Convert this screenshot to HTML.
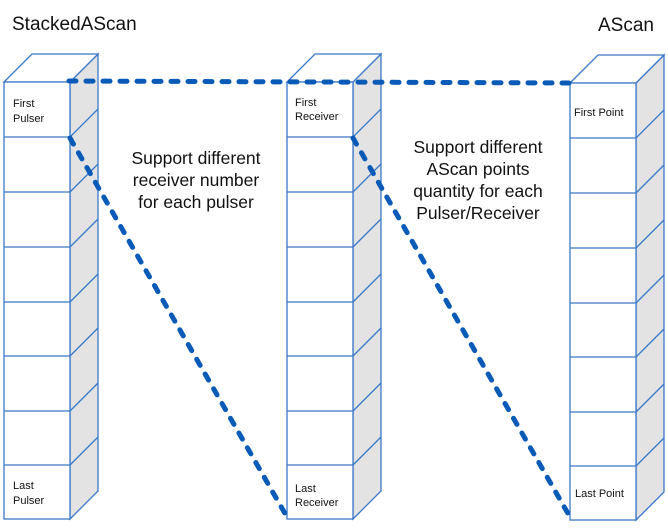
<!DOCTYPE html>
<html><head><meta charset="utf-8"><style>body{margin:0;background:#fff}svg{display:block}text{font-family:"Liberation Sans",sans-serif;fill:#111}</style></head><body>
<svg width="668" height="528" viewBox="0 0 668 528" xmlns="http://www.w3.org/2000/svg">
<defs>
<g id="col" stroke="#3b78c8" stroke-width="1.3">
<polygon points="66,0 94,-28 94,409 66,437" fill="#e3e3e3"/>
<polygon points="0,0 28,-28 94,-28 66,0" fill="#fff"/>
<rect x="0" y="0" width="66" height="437" fill="#fff"/>
<g fill="none">
<line x1="0" y1="55" x2="66" y2="55"/><line x1="66" y1="55" x2="94" y2="27"/>
<line x1="0" y1="110" x2="66" y2="110"/><line x1="66" y1="110" x2="94" y2="82"/>
<line x1="0" y1="165" x2="66" y2="165"/><line x1="66" y1="165" x2="94" y2="137"/>
<line x1="0" y1="220" x2="66" y2="220"/><line x1="66" y1="220" x2="94" y2="192"/>
<line x1="0" y1="274" x2="66" y2="274"/><line x1="66" y1="274" x2="94" y2="246"/>
<line x1="0" y1="329" x2="66" y2="329"/><line x1="66" y1="329" x2="94" y2="301"/>
<line x1="0" y1="383" x2="66" y2="383"/><line x1="66" y1="383" x2="94" y2="355"/>
</g>
</g>
</defs>
<use href="#col" x="4" y="82"/>
<use href="#col" x="287" y="82"/>
<use href="#col" x="570" y="83"/>
<text x="12" y="30" font-size="19">StackedAScan</text>
<text x="598" y="31" font-size="19">AScan</text>
<g font-size="11">
<text x="13" y="107">First</text><text x="13" y="122">Pulser</text>
<text x="13" y="489">Last</text><text x="13" y="504">Pulser</text>
<text x="295" y="106">First</text><text x="295" y="120">Receiver</text>
<text x="295" y="492">Last</text><text x="295" y="506">Receiver</text>
<text x="574" y="116">First Point</text>
<text x="575" y="497">Last Point</text>
</g>
<g font-size="17.5" text-anchor="middle">
<text x="196" y="164">Support different</text>
<text x="196" y="186">receiver number</text>
<text x="196" y="208">for each pulser</text>
<text x="478" y="153">Support different</text>
<text x="478" y="175">AScan points</text>
<text x="478" y="197">quantity for each</text>
<text x="478" y="219">Pulser/Receiver</text>
</g>
<g stroke="#0a5ab8" stroke-width="5" stroke-linecap="round" stroke-dasharray="7 10" fill="none">
<line x1="69" y1="81" x2="570" y2="83"/>
<line x1="70" y1="138" x2="287" y2="517"/>
<line x1="353" y1="138" x2="570" y2="517"/>
</g>
</svg>
</body></html>
